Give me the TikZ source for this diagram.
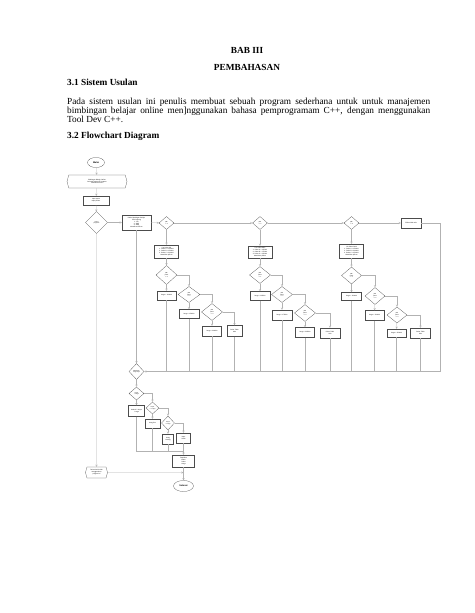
\documentclass[tikz,border=0pt]{standalone}
\usepackage{fontspec}
\setmainfont{Liberation Serif}
\newfontfamily\fcfont{Liberation Sans}
\usetikzlibrary{shapes.geometric,shapes.symbols}
\newcommand{\pxu}{1.2911pt}

\begin{document}
\begin{tikzpicture}[x=1.2911pt, y=-1.2911pt,
    judul/.style={font=\bfseries\fontsize{12}{14}\selectfont, inner sep=0pt},
    teks/.style={font=\fontsize{12}{14}\selectfont, inner sep=0pt, anchor=base west},
    term/.style 2 args={draw=black!70, line width=0.3pt, ellipse, minimum width=#1*\pxu, minimum height=#2*\pxu, inner sep=0pt, font=\fcfont\bfseries\fontsize{3}{3.5}\selectfont},
    proses/.style 2 args={draw=black!70, line width=0.3pt, rectangle, minimum width=#1*\pxu, minimum height=#2*\pxu, inner sep=0.2pt, align=center, font=\fcfont\fontsize{2}{2.5}\selectfont},
    kondisi/.style 2 args={draw=black!70, line width=0.3pt, diamond, minimum width=#1*\pxu, minimum height=#2*\pxu, inner sep=0pt, align=center, font=\fcfont\fontsize{1.8}{2.2}\selectfont},
    io/.style 2 args={draw=black!70, line width=0.3pt, signal, signal to=west and east, signal pointer angle=150, minimum width=#1*\pxu, minimum height=#2*\pxu, inner sep=0.2pt, align=center, font=\fcfont\fontsize{2}{2.5}\selectfont},
    garis/.style={draw=gray!60, line width=0.3pt},
    panah/.style={garis, ->, >=stealth}]
    \useasboundingbox[fill=white] (0,0) rectangle (474,613);

    % judul dan teks
    \node[judul] (bab) at (247,50) {BAB III};
    \node[judul] (bahas) at (247,67) {PEMBAHASAN};
    \node[judul, anchor=base west] (sub1) at (67,86) {3.1 Sistem Usulan};
    \node[teks] (par1) at (67,104.5) {\makebox[468.7pt][s]{Pada sistem usulan ini penulis membuat sebuah program sederhana untuk untuk manajemen}};
    \node[teks] (par2) at (67,113.5) {\makebox[468.7pt][s]{bimbingan belajar online men]nggunakan bahasa pemprogramam C++, dengan menggunakan}};
    \node[teks] (par3) at (67,122.5) {Tool Dev C++.};
    \node[judul, anchor=base west] (sub2) at (67,138) {3.2 Flowchart Diagram};

    % alur utama
    \node[term={17}{10}] (mulai) at (96,162.5) {Mulai};
    \node[io={60}{13}] (awal) at (97,181.5) {Bimbingan Belajar Online\\Selamat Datang di Program\\Masukkan nama};
    \node[proses={26}{9}] (input) at (96,200.5) {Input nama\\Input pilihan};
    \node[kondisi={22}{22}] (lanjut) at (96.5,222.5) {Lanjut\\program?};
    \node[proses={29}{15}] (menu) at (136.5,222.5) {Daftar Bimbingan Belajar\\Pilih Jenjang\\1. SD\\2. SMP\\3. SMA\\Masukkan Pilihan};
    \node[kondisi={15}{13}] (pil1) at (166.5,223) {pilih\\== 1};
    \node[kondisi={15}{13}] (pil2) at (260,223) {pilih\\== 2};
    \node[kondisi={15}{13}] (pil3) at (351.5,223) {pilih\\== 3};
    \node[proses={20}{10}] (salah) at (411,223) {Pilihan tidak ada};
    \coordinate (pojok) at (440,223);

    % jenjang SD
    \node[proses={24}{13}] (listA) at (166.5,251.5) {List Paket SD\\1. Paket A = 100000\\2. Paket B = 150000\\3. Paket C = 200000\\Masukkan pilihan};
    \node[kondisi={21}{19}] (a1) at (166.5,275) {pilih\\paket\\== 1};
    \node[kondisi={22}{16}] (a2) at (189,294.5) {pilih\\paket\\== 2};
    \node[kondisi={21}{17}] (a3) at (212,312) {pilih\\paket\\== 3};
    \node[proses={19}{9}] (ha1) at (166.5,295.5) {harga = 100000};
    \node[proses={20}{9}] (ha2) at (189,314) {harga = 150000};
    \node[proses={19}{10}] (ha3) at (212,331) {harga = 200000};
    \node[proses={15}{11}] (xa) at (234.5,331) {Paket Tidak\\Ada};

    % jenjang SMP
    \node[proses={24}{12}] (listB) at (260,252) {List Paket SMP\\1. Paket A = 125000\\2. Paket B = 175000\\3. Paket C = 225000\\Masukkan pilihan};
    \node[kondisi={21}{17}] (b1) at (260,275) {pilih\\paket\\== 1};
    \node[kondisi={21}{16}] (b2) at (282,294.5) {pilih\\paket\\== 2};
    \node[kondisi={21}{17}] (b3) at (305,313) {pilih\\paket\\== 3};
    \node[proses={20}{9}] (hb1) at (260,296) {harga = 125000};
    \node[proses={20}{10}] (hb2) at (282,315) {harga = 175000};
    \node[proses={19}{10}] (hb3) at (305,332.5) {harga = 225000};
    \node[proses={20}{10}] (xb) at (330,333) {Paket Tidak\\Ada};

    % jenjang SMA
    \node[proses={24}{14}] (listC) at (351.5,251) {List Paket SMA\\1. Paket A = 150000\\2. Paket B = 200000\\3. Paket C = 250000\\Masukkan pilihan};
    \node[kondisi={20}{17}] (c1) at (351.5,275.5) {pilih\\paket\\== 1};
    \node[kondisi={20}{17}] (c2) at (375,296) {pilih\\paket\\== 2};
    \node[kondisi={20}{16}] (c3) at (397,315) {pilih\\paket\\== 3};
    \node[proses={20}{8}] (hc1) at (351.5,296.5) {harga = 150000};
    \node[proses={19}{10}] (hc2) at (374.5,315.5) {harga = 200000};
    \node[proses={19}{8}] (hc3) at (396.5,333) {harga = 250000};
    \node[proses={20}{10}] (xc) at (420.5,333) {Paket Tidak\\Ada};

    % pembayaran
    \node[kondisi={15}{16}] (bayar) at (136.5,371.5) {Masukkan\\uang bayar};
    \node[kondisi={15}{13}] (e1) at (136.5,393.5) {bayar\\> harga};
    \node[kondisi={13}{12}] (e2) at (152.5,408) {bayar\\== harga};
    \node[kondisi={13}{14}] (e3) at (168,423) {bayar\\< harga};
    \node[proses={16}{11}] (he1) at (136.5,411) {kembali = bayar\\- harga};
    \node[proses={15}{9}] (he2) at (152.5,423.5) {Uang Pas};
    \node[proses={11}{10}] (he3) at (168,439) {Uang\\Kurang};
    \node[proses={14}{10}] (xe) at (183.5,438) {Input\\Salah};
    \node[proses={22}{12}] (hasil) at (183.5,461) {Tampilkan\\Nama\\Paket\\Harga};
    \node[term={20}{11}] (selesai) at (183.5,486) {Selesai};
    \node[io={22}{11}] (akhir) at (96.5,472.5) {Terima kasih telah\\menggunakan\\program ini};
    \coordinate (gabung) at (183.5,450.7);

    % garis alur utama
    \draw[panah] (mulai) -- (awal);
    \draw[panah] (awal) -- (input);
    \draw[panah] (input) -- (lanjut);
    \draw[panah] (lanjut) -- (menu);
    \draw[panah] (lanjut) -- (akhir);
    \draw[panah] (menu) -- (bayar);
    \draw[panah] (menu) -- (pil1);
    \draw[panah] (pil1) -- (pil2);
    \draw[panah] (pil2) -- (pil3);
    \draw[panah] (pil3) -- (salah);
    \draw[panah] (salah) -- (pojok) |- (bayar);

    % garis SD
    \draw[panah] (pil1) -- (listA);
    \draw[panah] (listA) -- (a1);
    \draw[panah] (a1) -- (ha1);
    \draw[panah] (a1) -| (a2);
    \draw[panah] (a2) -- (ha2);
    \draw[panah] (a2) -| (a3);
    \draw[panah] (a3) -- (ha3);
    \draw[panah] (a3) -| (xa);

    % garis SMP
    \draw[panah] (pil2) -- (listB);
    \draw[panah] (listB) -- (b1);
    \draw[panah] (b1) -- (hb1);
    \draw[panah] (b1) -| (b2);
    \draw[panah] (b2) -- (hb2);
    \draw[panah] (b2) -| (b3);
    \draw[panah] (b3) -- (hb3);
    \draw[panah] (b3) -| (xb);

    % garis SMA
    \draw[panah] (pil3) -- (listC);
    \draw[panah] (listC) -- (c1);
    \draw[panah] (c1) -- (hc1);
    \draw[panah] (c1) -| (c2);
    \draw[panah] (c2) -- (hc2);
    \draw[panah] (c2) -| (c3);
    \draw[panah] (c3) -- (hc3);
    \draw[panah] (c3) -| (xc);

    % garis kembali ke pembayaran
    \draw[garis] (ha1) -- (ha1 |- bayar);
    \draw[garis] (ha2) -- (ha2 |- bayar);
    \draw[garis] (ha3) -- (ha3 |- bayar);
    \draw[garis] (xa) -- (xa |- bayar);
    \draw[garis] (hb1) -- (hb1 |- bayar);
    \draw[garis] (hb2) -- (hb2 |- bayar);
    \draw[garis] (hb3) -- (hb3 |- bayar);
    \draw[garis] (xb) -- (xb |- bayar);
    \draw[garis] (hc1) -- (hc1 |- bayar);
    \draw[garis] (hc2) -- (hc2 |- bayar);
    \draw[garis] (hc3) -- (hc3 |- bayar);
    \draw[garis] (xc) -- (xc |- bayar);

    % garis pembayaran
    \draw[panah] (bayar) -- (e1);
    \draw[panah] (e1) -- (he1);
    \draw[panah] (e1) -| (e2);
    \draw[panah] (e2) -- (he2);
    \draw[panah] (e2) -| (e3);
    \draw[panah] (e3) -- (he3);
    \draw[panah] (e3) -| (xe);
    \draw[garis] (he1) |- (gabung);
    \draw[garis] (he2) -- (he2 |- gabung);
    \draw[garis] (he3) -- (he3 |- gabung);
    \draw[garis] (xe) -- (gabung);
    \draw[panah] (gabung) -- (hasil);
    \draw[panah] (hasil) -- (selesai);
    \draw[panah] (akhir) -- (akhir -| selesai);
\end{tikzpicture}
\end{document}
